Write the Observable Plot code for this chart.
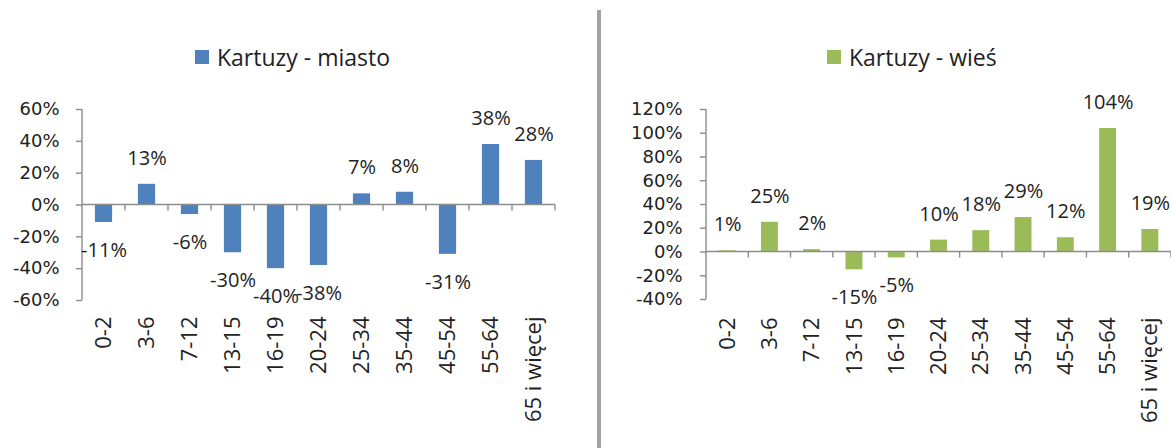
<!DOCTYPE html>
<html>
<head>
<meta charset="utf-8">
<script src="https://cdn.jsdelivr.net/npm/d3@7"></script>
<script src="https://cdn.jsdelivr.net/npm/@observablehq/plot@0.6"></script>
<style>
  body { margin: 0; background: #fff; }
  #wrap { position: relative; width: 1171px; height: 448px; overflow: hidden; font-family: "Open Sans", sans-serif; color: #222; }
  .legend { position: absolute; top: 43px; height: 28px; display: flex; align-items: center; font-size: 23px; white-space: nowrap; }
  .swatch { width: 14px; height: 14px; margin-right: 8px; }
  .sep { position: absolute; left: 597px; top: 10px; width: 4px; height: 438px; background: #a3a3a3; }
  .panel { position: absolute; top: 80px; }
</style>
</head>
<body>
<div id="wrap">
  <div class="legend" id="legL" style="left:195px"></div>
  <div class="legend" id="legR" style="left:827px"></div>
  <div class="sep"></div>
  <div class="panel" id="left" style="left:0px"></div>
  <div class="panel" id="right" style="left:598px"></div>
</div>
<script>
const categories = ["0-2", "3-6", "7-12", "13-15", "16-19", "20-24", "25-34", "35-44", "45-54", "55-64", "65 i więcej"];
const miastoValues = [-11, 13, -6, -30, -40, -38, 7, 8, -31, 38, 28];
const wiesValues = [1, 25, 2, -15, -5, 10, 18, 29, 12, 104, 19];
const miastoTicks = [-60, -40, -20, 0, 20, 40, 60];
const wiesTicks = [-40, -20, 0, 20, 40, 60, 80, 100, 120];
const seriesNames = ["Kartuzy - miasto", "Kartuzy - wieś"];
const colors = ["#4f81bd", "#9bbb59"];

function legend(el, name, color) {
  const sw = document.createElement("div");
  sw.className = "swatch";
  sw.style.background = color;
  const tx = document.createElement("span");
  tx.textContent = name;
  el.appendChild(sw);
  el.appendChild(tx);
}

function decor(index, scales, values, dims) {
  const x = scales.x, y = scales.y;
  const left = dims.marginLeft;
  const right = dims.width - dims.marginRight;
  const top = dims.marginTop;
  const bottom = dims.height - dims.marginBottom;
  const y0 = y(0);
  const bw = x.bandwidth();
  const step = x.step();
  const g = d3.create("svg:g").attr("stroke", "#8c8c8c").attr("stroke-width", 1.4).attr("fill", "none");
  g.append("line").attr("x1", left).attr("x2", left).attr("y1", top).attr("y2", bottom);
  g.append("line").attr("x1", left).attr("x2", right).attr("y1", y0).attr("y2", y0);
  x.domain().forEach((c) => {
    const b = x(c) + bw + (step - bw) / 2;
    g.append("line").attr("x1", b).attr("x2", b).attr("y1", y0).attr("y2", y0 + 6);
  });
  return g.node();
}

function chart({values, ticks, color, width, marginLeft, marginRight, marginBottom, xPad, yPad}) {
  const data = categories.map((c, i) => ({cat: c, v: values[i]}));
  return Plot.plot({
    width,
    height: 368,
    marginTop: 29,
    marginBottom,
    marginLeft,
    marginRight,
    style: {fontFamily: "Open Sans, sans-serif", color: "#222", background: "transparent", overflow: "visible"},
    x: {domain: categories, paddingInner: 0.6, paddingOuter: 0.3, round: false, axis: null},
    y: {domain: [ticks[0], ticks[ticks.length - 1]], axis: null},
    marks: [
      Plot.barY(data, {x: "cat", y: "v", fill: color}),
      decor,
      Plot.axisY({ticks, tickFormat: (d) => d + "%", tickSize: 6, tickPadding: yPad, stroke: "#8c8c8c", strokeWidth: 1.4, fontSize: 18, fontFamily: "DejaVu Sans", label: null}),
      Plot.axisX({tickSize: 0, tickPadding: xPad, tickRotate: -90, fontSize: 22, label: null}),
      Plot.text(data.filter((d) => d.v >= 0), {x: "cat", y: "v", text: (d) => d.v + "%", dy: -26, fontSize: 20, fill: "#222"}),
      Plot.text(data.filter((d) => d.v < 0), {x: "cat", y: "v", text: (d) => d.v + "%", dy: 28, fontSize: 20, fill: "#222"})
    ]
  });
}

legend(document.getElementById("legL"), seriesNames[0], colors[0]);
legend(document.getElementById("legR"), seriesNames[1], colors[1]);

document.getElementById("left").appendChild(chart({
  values: miastoValues, ticks: miastoTicks, color: colors[0],
  width: 598, marginLeft: 82, marginRight: 43, marginBottom: 148, xPad: 16, yPad: 17
}));
document.getElementById("right").appendChild(chart({
  values: wiesValues, ticks: wiesTicks, color: colors[1],
  width: 573, marginLeft: 108, marginRight: 0, marginBottom: 149, xPad: 18, yPad: 18
}));
</script>
</body>
</html>
